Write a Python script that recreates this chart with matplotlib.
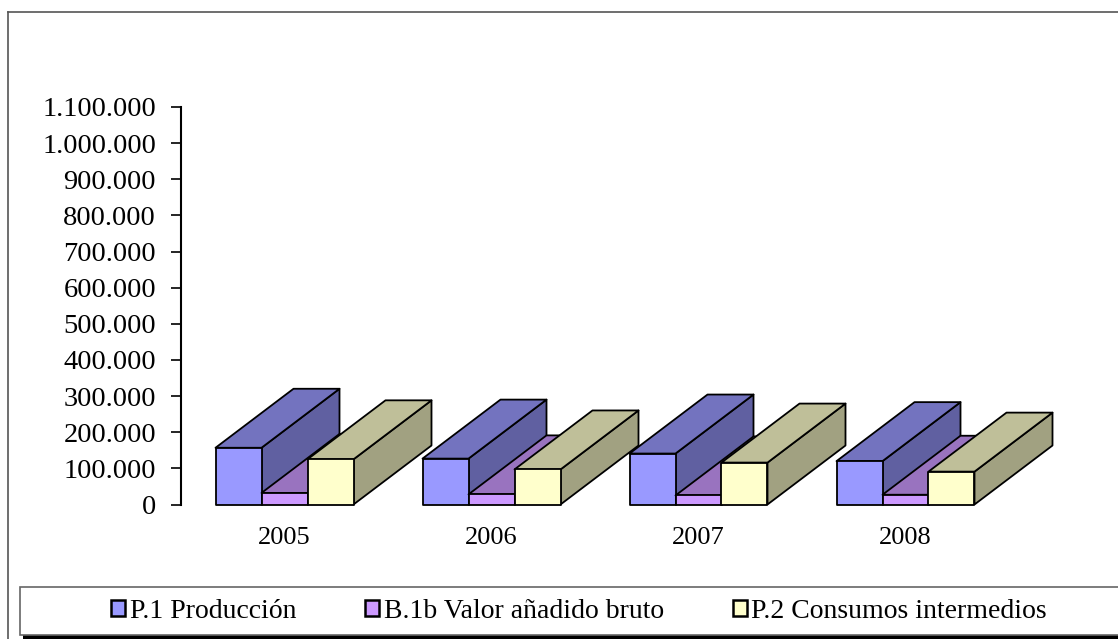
import numpy as np
import matplotlib
matplotlib.use("Agg")
import matplotlib.pyplot as plt
from matplotlib.patches import Polygon, Rectangle, Patch
from matplotlib.lines import Line2D
from matplotlib.ticker import FuncFormatter

years = ["2005", "2006", "2007", "2008"]
series_names = ["P.1 Producción", "B.1b Valor añadido bruto", "P.2 Consumos intermedios"]
produccion = [157000, 127000, 141000, 120000]
valor_anadido = [32000, 28000, 25000, 27000]
consumos = [125000, 97000, 116000, 91000]
yticks = np.arange(0, 1100001, 100000)


def shade(color, f):
    """darker version of a colour for the top / side faces"""
    rgb = np.array(matplotlib.colors.to_rgb(color))
    return tuple(rgb * f)


def thousands(v, pos):
    return f"{int(v):,}".replace(",", ".")


def draw_box(ax, x0, width, h, dx, dy, color):
    x1 = x0 + width
    kw = dict(edgecolor="black", linewidth=1.3, clip_on=False, joinstyle="round")
    side = [(x1, 0), (x1 + dx, dy), (x1 + dx, h + dy), (x1, h)]
    top = [(x0, h), (x1, h), (x1 + dx, h + dy), (x0 + dx, h + dy)]
    front = [(x0, 0), (x1, 0), (x1, h), (x0, h)]
    ax.add_patch(Polygon(side, closed=True, facecolor=shade(color, 0.63), **kw))
    ax.add_patch(Polygon(top, closed=True, facecolor=shade(color, 0.75), **kw))
    ax.add_patch(Polygon(front, closed=True, facecolor=color, **kw))


def main():
    plt.rcParams["font.family"] = ["Liberation Serif", "DejaVu Serif"]
    W, H = 1118, 639
    fig = plt.figure(figsize=(W / 100, H / 100), dpi=100)

    # outer chart border (cropped on the right and bottom)
    fig.add_artist(Line2D([8 / W, 8 / W], [0, 1 - 12 / H], color="#555555", lw=1.2))
    fig.add_artist(Line2D([8 / W, 1], [1 - 12 / H, 1 - 12 / H], color="#555555", lw=1.2))

    ax = fig.add_axes([181 / W, 1 - 504.5 / H, 828 / W, (504.5 - 107) / H])
    ax.set_xlim(0, len(years))
    ax.set_ylim(0, 1100000)

    colors = ["#9999FF", "#CC99FF", "#FFFFCC"]
    data = [produccion, valor_anadido, consumos]
    barwidth = 1 / 4.5
    dx = 78 / 207
    dy = 59 * 1100000 / 397.5
    # left to right so nearer faces overwrite hidden ones
    for i in range(len(years)):
        start = i + 0.75 * barwidth
        for s in range(len(data)):
            draw_box(ax, start + s * barwidth, barwidth, data[s][i], dx, dy, colors[s])

    for sp in ["top", "right", "bottom"]:
        ax.spines[sp].set_visible(False)
    ax.spines["left"].set_linewidth(1.5)
    ax.set_yticks(yticks)
    ax.yaxis.set_major_formatter(FuncFormatter(thousands))
    ax.tick_params(axis="y", length=7, width=1.2, pad=11, labelsize=20.5)
    ax.set_xticks(np.arange(len(years)) + 0.5)
    ax.set_xticklabels(years)
    ax.tick_params(axis="x", length=0, pad=16, labelsize=19)

    # legend box with shadow
    fig.add_artist(Rectangle((23 / W, 0), 1, 1 - 632 / H, transform=fig.transFigure,
                             facecolor="black", edgecolor="none"))
    fig.add_artist(Rectangle((20 / W, 1 - 635 / H), 1, (635 - 587) / H, transform=fig.transFigure,
                             facecolor="white", edgecolor="#666666", lw=1.2))
    handles = [Patch(facecolor=c, edgecolor="black", linewidth=1.8) for c in colors]
    fig.legend(handles, series_names, loc="center", ncol=3, frameon=False,
               bbox_to_anchor=(0.518, 1 - 611 / H), fontsize=20,
               handlelength=0.5, handleheight=0.5, handletextpad=0.15,
               columnspacing=2.5)

    fig.savefig("out.png", dpi=100)


if __name__ == "__main__":
    main()
